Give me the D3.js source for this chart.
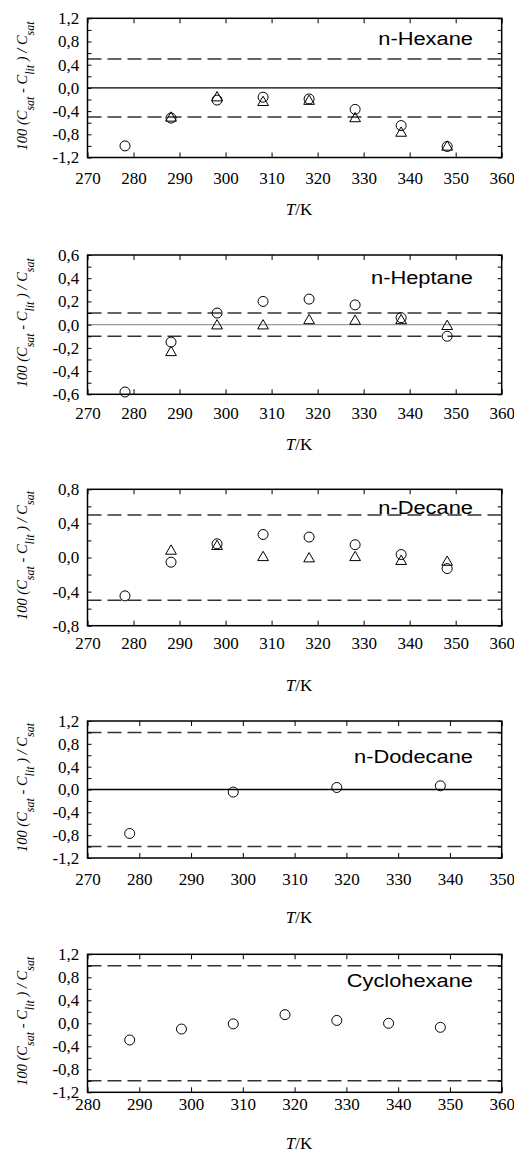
<!DOCTYPE html>
<html><head><meta charset="utf-8">
<script src="https://cdn.jsdelivr.net/npm/d3@7"></script>
<style>
body{margin:0;background:#fff}svg{display:block}
.serif{font-family:"Liberation Serif","Times New Roman","DejaVu Serif",serif}
.sans{font-family:"Liberation Sans",Arial,"DejaVu Sans",sans-serif}
</style>
</head><body>
<script>
// ---------- data ----------
const tempsEight = [278.15, 288.15, 298.15, 308.15, 318.15, 328.15, 338.15, 348.15];
const tempsDodecane = [278.15, 298.15, 318.15, 338.15];
const tempsCyclohexane = [288.15, 298.15, 308.15, 318.15, 328.15, 338.15, 348.15];

const hexaneCircles   = [-1.00, -0.52, -0.21, -0.16, -0.19, -0.37, -0.65, -1.01];
const hexaneTriangles = [null, -0.52, -0.17, -0.25, -0.23, -0.53, -0.78, -1.02];

const heptaneCircles   = [-0.58, -0.15, 0.10, 0.20, 0.22, 0.17, 0.06, -0.10];
const heptaneTriangles = [null, -0.24, -0.01, -0.01, 0.035, 0.03, 0.035, -0.015];

const decaneCircles   = [-0.45, -0.055, 0.16, 0.27, 0.24, 0.15, 0.035, -0.13];
const decaneTriangles = [null, 0.075, 0.13, 0.0, -0.015, 0.0, -0.045, -0.055];

const dodecaneCircles = [-0.77, -0.045, 0.035, 0.065];

const cyclohexaneCircles = [-0.29, -0.10, -0.01, 0.15, 0.05, 0.0, -0.07];

const xTicks270to360 = [270, 280, 290, 300, 310, 320, 330, 340, 350, 360];
const xTicks270to350 = [270, 280, 290, 300, 310, 320, 330, 340, 350];
const xTicks280to360 = [280, 290, 300, 310, 320, 330, 340, 350, 360];
const yTicks12 = [-1.2, -0.8, -0.4, 0.0, 0.4, 0.8, 1.2];
const yTicks06 = [-0.6, -0.4, -0.2, 0.0, 0.2, 0.4, 0.6];
const yTicks08 = [-0.8, -0.4, 0.0, 0.4, 0.8];

const compoundNames = ["n-Hexane", "n-Heptane", "n-Decane", "n-Dodecane", "Cyclohexane"];
const dashLimits = [0.5, 0.1, 0.5, 1.0, 1.0];

// ---------- layout ----------
const W = 514, H = 1159;
const left = 87.5, right = 501.7;
const panels = [
  {name: compoundNames[0], T: tempsEight, circ: hexaneCircles, tri: hexaneTriangles,
   xDom: [270, 360], xt: xTicks270to360, yDom: [-1.2, 1.2], yt: yTicks12, dash: dashLimits[0],
   zero: "#000", top: 18.3, bottom: 157.5, tickBase: 26.5, titleBase: 215, labelBase: 44.5},
  {name: compoundNames[1], T: tempsEight, circ: heptaneCircles, tri: heptaneTriangles,
   xDom: [270, 360], xt: xTicks270to360, yDom: [-0.6, 0.6], yt: yTicks06, dash: dashLimits[1],
   zero: "#999", top: 255, bottom: 394.3, tickBase: 25, titleBase: 450, labelBase: 283.5},
  {name: compoundNames[2], T: tempsEight, circ: decaneCircles, tri: decaneTriangles,
   xDom: [270, 360], xt: xTicks270to360, yDom: [-0.8, 0.8], yt: yTicks08, dash: dashLimits[2],
   zero: null, top: 489.3, bottom: 625.7, tickBase: 23.6, titleBase: 690.5, labelBase: 514},
  {name: compoundNames[3], T: tempsDodecane, circ: dodecaneCircles, tri: null,
   xDom: [270, 350], xt: xTicks270to350, yDom: [-1.2, 1.2], yt: yTicks12, dash: dashLimits[3],
   zero: "#000", top: 721, bottom: 858, tickBase: 27, titleBase: 923, labelBase: 762.5},
  {name: compoundNames[4], T: tempsCyclohexane, circ: cyclohexaneCircles, tri: null,
   xDom: [280, 360], xt: xTicks280to360, yDom: [-1.2, 1.2], yt: yTicks12, dash: dashLimits[4],
   zero: null, top: 954.3, bottom: 1092.3, tickBase: 17.7, titleBase: 1149, labelBase: 986.5}
];

const tickFont = 17;
const fmt = v => d3.format(".1f")(v).replace(".", ",").replace("\u2212", "-");

const svg = d3.select("body").append("svg").attr("width", W).attr("height", H);

panels.forEach(p => {
  const x = d3.scaleLinear().domain(p.xDom).range([left, right]);
  const y = d3.scaleLinear().domain(p.yDom).range([p.bottom, p.top]);
  const g = svg.append("g");

  // minor y ticks: midpoints between labelled ticks
  const minor = [];
  for (let i = 0; i < p.yt.length - 1; i++) minor.push((p.yt[i] + p.yt[i + 1]) / 2);
  const allY = p.yt.concat(minor);

  // reference lines
  [p.dash, -p.dash].forEach(v => {
    g.append("line").attr("x1", left).attr("x2", right).attr("y1", y(v)).attr("y2", y(v))
      .attr("stroke", "#333").attr("stroke-width", 1.5).attr("stroke-dasharray", "14,6");
  });
  if (p.zero) {
    g.append("line").attr("x1", left).attr("x2", right).attr("y1", y(0)).attr("y2", y(0))
      .attr("stroke", p.zero).attr("stroke-width", 1.3);
  }

  // axes
  const bottomAx = g.append("g").attr("transform", `translate(0,${p.bottom})`)
    .call(d3.axisBottom(x).tickValues(p.xt).tickSize(-5).tickPadding(p.tickBase - 0.71 * tickFont)
      .tickFormat(d3.format("d")));
  const topAx = g.append("g").attr("transform", `translate(0,${p.top})`)
    .call(d3.axisTop(x).tickValues(p.xt).tickSize(-5).tickFormat(""));
  const leftAx = g.append("g").attr("transform", `translate(${left},0)`)
    .call(d3.axisLeft(y).tickValues(allY).tickSize(-4).tickPadding(8.2)
      .tickFormat(v => p.yt.some(t => Math.abs(t - v) < 1e-9) ? fmt(v) : ""));
  const rightAx = g.append("g").attr("transform", `translate(${right},0)`)
    .call(d3.axisRight(y).tickValues(allY).tickSize(-4).tickFormat(""));
  [bottomAx, topAx, leftAx, rightAx].forEach(a => {
    a.attr("font-family", null).attr("font-size", null).attr("class", "serif");
    a.select(".domain").remove();
    a.selectAll("line").attr("stroke", "#000").attr("stroke-width", 1);
    a.selectAll("text").attr("class", "serif").style("font-size", tickFont + "px").attr("fill", "#000");
  });

  // frame
  g.append("rect").attr("x", left).attr("y", p.top).attr("width", right - left).attr("height", p.bottom - p.top)
    .attr("fill", "none").attr("stroke", "#000").attr("stroke-width", 1.5);

  // triangles
  if (p.tri) {
    const triData = p.T.map((t, i) => ({t, v: p.tri[i]})).filter(d => d.v !== null);
    g.selectAll(".tri").data(triData).enter().append("path")
      .attr("d", d3.symbol().type(d3.symbolTriangle).size(50))
      .attr("transform", d => `translate(${x(d.t)},${y(d.v)})`)
      .attr("fill", "none").attr("stroke", "#000").attr("stroke-width", 1);
  }
  // circles
  const cData = p.T.map((t, i) => ({t, v: p.circ[i]}));
  g.selectAll(".circ").data(cData).enter().append("circle")
    .attr("cx", d => x(d.t)).attr("cy", d => y(d.v)).attr("r", 5)
    .attr("fill", "none").attr("stroke", "#000").attr("stroke-width", 1);

  // compound label
  g.append("text").attr("class", "sans").attr("transform", `translate(473,${p.labelBase}) scale(1.15,1)`)
    .attr("text-anchor", "end").style("font-size", "19px").attr("fill", "#000")
    .text(p.name);

  // x title
  const xt = g.append("text").attr("class", "serif").attr("x", 299).attr("y", p.titleBase).attr("text-anchor", "middle")
    .style("font-size", "17px").attr("fill", "#000");
  xt.append("tspan").style("font-style", "italic").text("T");
  xt.append("tspan").text("/K");

  // y title
  const cy = (p.top + p.bottom) / 2 - 2;
  const yt = g.append("text").attr("class", "serif").attr("transform", `translate(27,${cy}) rotate(-90)`)
    .attr("text-anchor", "middle").style("font-style", "italic")
    .style("font-size", "14.5px").attr("fill", "#000");
  yt.append("tspan").text("100 (C");
  yt.append("tspan").attr("baseline-shift", "sub").style("font-size", "12px").text("sat");
  yt.append("tspan").text(" - C");
  yt.append("tspan").attr("baseline-shift", "sub").style("font-size", "12px").text("lit");
  yt.append("tspan").text(" ) / C");
  yt.append("tspan").attr("baseline-shift", "sub").style("font-size", "12px").text("sat");
});
</script>
</body></html>
